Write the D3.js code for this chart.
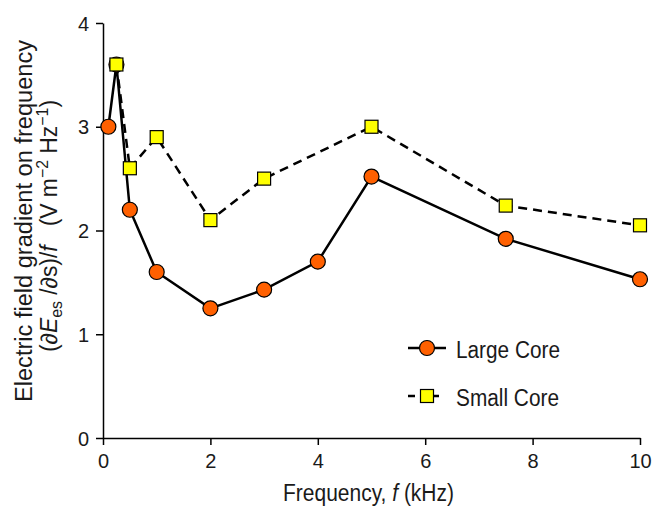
<!DOCTYPE html>
<html>
<head>
<meta charset="utf-8">
<script src="https://cdn.jsdelivr.net/npm/d3@7"></script>
<style>
  body { margin: 0; background: #fff; }
  text { font-family: "Liberation Sans", Arial, sans-serif; fill: #1a1a1a; }
</style>
</head>
<body>
<script>
// values
var largeFreq = [0.1, 0.25, 0.5, 1, 2, 3, 4, 5, 7.5, 10];
var largeVals = [3.0, 3.6, 2.2, 1.6, 1.25, 1.43, 1.7, 2.52, 1.92, 1.53];
var smallFreq = [0.25, 0.5, 1, 2, 3, 5, 7.5, 10];
var smallVals = [3.6, 2.6, 2.9, 2.1, 2.5, 3.0, 2.24, 2.05];
var xTicks = [0, 2, 4, 6, 8, 10];
var yTicks = [0, 1, 2, 3, 4];
var seriesNames = ["Large Core", "Small Core"];

var width = 667, height = 508;
var plotLeft = 103, plotRight = 640, plotTop = 23, plotBottom = 438;

var svg = d3.select("body").append("svg")
            .attr("width", width)
            .attr("height", height);

var x = d3.scaleLinear().domain([0, 10]).range([plotLeft, plotRight]);
var y = d3.scaleLinear().domain([0, 4]).range([plotBottom, plotTop]);

// axes
var xAxis = d3.axisBottom(x).tickValues(xTicks).tickSize(7).tickSizeOuter(0).tickFormat(d3.format("d"));
var yAxis = d3.axisLeft(y).tickValues(yTicks).tickSize(7).tickSizeOuter(0).tickFormat(d3.format("d"));

var gx = svg.append("g").attr("transform", "translate(0," + plotBottom + ")").call(xAxis);
var gy = svg.append("g").attr("transform", "translate(" + plotLeft + ",0)").call(yAxis);

[gx, gy].forEach(function(g) {
  g.attr("font-size", null).attr("font-family", null);
  g.select(".domain").attr("stroke", "#000").attr("stroke-width", 1.5);
  g.selectAll(".tick line").attr("stroke", "#000").attr("stroke-width", 1.5);
  g.selectAll(".tick text").style("font-size", "20px").attr("fill", "#1a1a1a");
});
gx.selectAll(".tick text").attr("y", 30).attr("dy", 0);
gy.selectAll(".tick text").attr("x", -14).attr("dy", "0.36em");

// axis titles
svg.append("text")
   .attr("x", 283)
   .attr("y", 501)
   .attr("textLength", 171)
   .attr("lengthAdjust", "spacingAndGlyphs")
   .style("font-size", "23px")
   .html("Frequency, <tspan font-style='italic'>f</tspan> (kHz)");

svg.append("text")
   .attr("transform", "translate(32,221) rotate(-90)")
   .attr("text-anchor", "middle")
   .attr("textLength", 362)
   .attr("lengthAdjust", "spacingAndGlyphs")
   .style("font-size", "23.5px")
   .text("Electric field gradient on frequency");

svg.append("text")
   .attr("transform", "translate(57,352) rotate(-90)")
   .attr("textLength", 252)
   .attr("lengthAdjust", "spacingAndGlyphs")
   .style("font-size", "23px")
   .html("(∂<tspan font-style='italic'>E</tspan><tspan font-size='16px' dy='5'>es</tspan><tspan dy='-5' xml:space='preserve'> /∂s)/</tspan><tspan font-style='italic'>f</tspan><tspan xml:space='preserve'>   (V m</tspan><tspan font-size='16px' dy='-9'>−2</tspan><tspan dy='9'> Hz</tspan><tspan font-size='16px' dy='-9'>−1</tspan><tspan dy='9'>)</tspan>");

// lines
var line = d3.line().x(function(d) { return x(d[0]); }).y(function(d) { return y(d[1]); });
var largeData = largeFreq.map(function(f, i) { return [f, largeVals[i]]; });
var smallData = smallFreq.map(function(f, i) { return [f, smallVals[i]]; });

svg.append("path").datum(largeData)
   .attr("d", line).attr("fill", "none")
   .attr("stroke", "#000").attr("stroke-width", 2.5);

svg.append("path").datum(smallData)
   .attr("d", line).attr("fill", "none")
   .attr("stroke", "#000").attr("stroke-width", 2.5)
   .attr("stroke-dasharray", "9,6");

// markers
svg.selectAll("circle.large").data(largeData).enter()
   .append("circle").attr("class", "large")
   .attr("cx", function(d) { return x(d[0]); })
   .attr("cy", function(d) { return y(d[1]); })
   .attr("r", 7.5)
   .attr("fill", "#ff6000").attr("stroke", "#000").attr("stroke-width", 1.2);

var s = 13;
svg.selectAll("rect.small").data(smallData).enter()
   .append("rect").attr("class", "small")
   .attr("x", function(d) { return x(d[0]) - s / 2; })
   .attr("y", function(d) { return y(d[1]) - s / 2; })
   .attr("width", s).attr("height", s)
   .attr("fill", "#ffff00").attr("stroke", "#000").attr("stroke-width", 1.2);

// legend
var lg = svg.append("g");
lg.append("line").attr("x1", 408).attr("x2", 446).attr("y1", 348).attr("y2", 348)
  .attr("stroke", "#000").attr("stroke-width", 2.5);
lg.append("circle").attr("cx", 427).attr("cy", 348).attr("r", 7.5)
  .attr("fill", "#ff6000").attr("stroke", "#000").attr("stroke-width", 1.2);
lg.append("text").attr("x", 456).attr("y", 358)
  .attr("textLength", 104).attr("lengthAdjust", "spacingAndGlyphs")
  .style("font-size", "23px").text(seriesNames[0]);

lg.append("line").attr("x1", 408).attr("x2", 440).attr("y1", 396).attr("y2", 396)
  .attr("stroke", "#000").attr("stroke-width", 2.5).attr("stroke-dasharray", "7,5");
lg.append("rect").attr("x", 427 - s / 2).attr("y", 396 - s / 2).attr("width", s).attr("height", s)
  .attr("fill", "#ffff00").attr("stroke", "#000").attr("stroke-width", 1.2);
lg.append("text").attr("x", 456).attr("y", 406)
  .attr("textLength", 103).attr("lengthAdjust", "spacingAndGlyphs")
  .style("font-size", "23px").text(seriesNames[1]);
</script>
</body>
</html>
